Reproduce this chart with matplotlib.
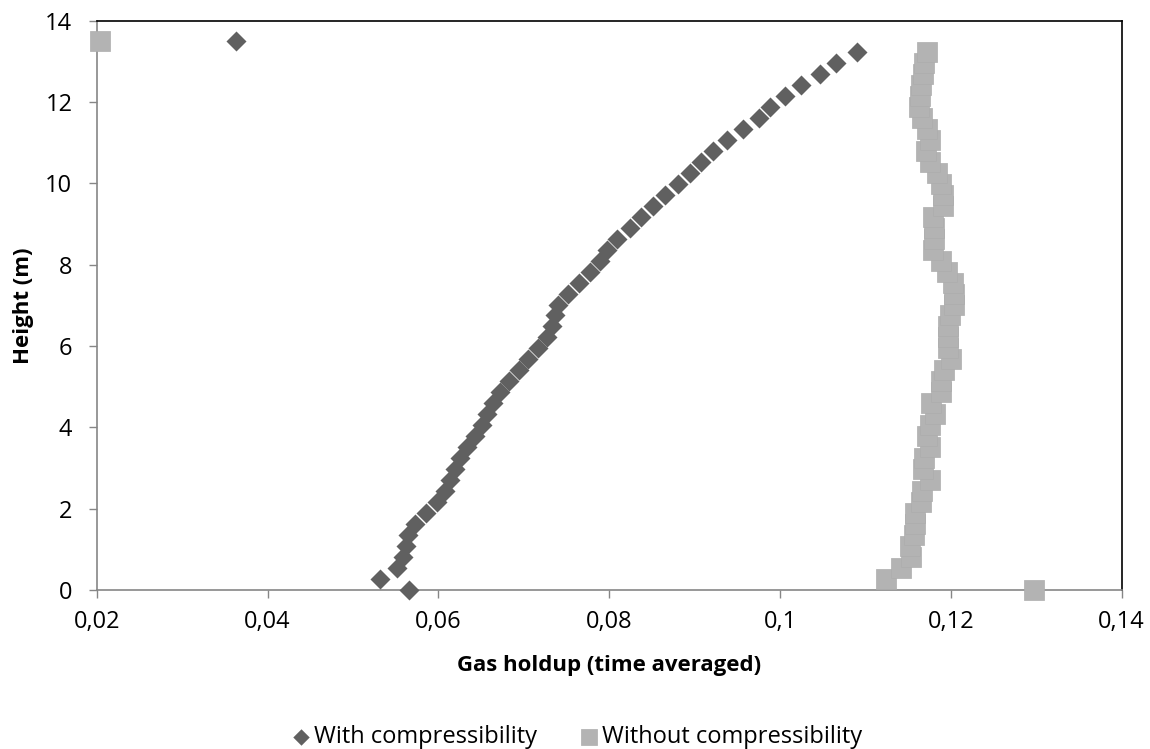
import matplotlib
matplotlib.use("Agg")
import matplotlib.pyplot as plt
from matplotlib.ticker import FuncFormatter, MultipleLocator

plt.rcParams['font.family'] = ['Open Sans', 'DejaVu Sans']

# heights (m), 0 .. 13.5 in 0.27 m cells
height = [0.0, 0.27, 0.54, 0.81, 1.08, 1.35, 1.62, 1.89, 2.16, 2.43,
          2.70, 2.97, 3.24, 3.51, 3.78, 4.05, 4.32, 4.59, 4.86, 5.13,
          5.40, 5.67, 5.94, 6.21, 6.48, 6.75, 7.02, 7.29, 7.56, 7.83,
          8.10, 8.37, 8.64, 8.91, 9.18, 9.45, 9.72, 9.99, 10.26, 10.53,
          10.80, 11.07, 11.34, 11.61, 11.88, 12.15, 12.42, 12.69, 12.96, 13.23,
          13.5]

with_comp = [0.0566, 0.0532, 0.0551, 0.0558, 0.0562, 0.0565, 0.0573, 0.0586, 0.0598, 0.0608,
             0.0614, 0.0619, 0.0625, 0.0633, 0.0643, 0.0651, 0.0657, 0.0664, 0.0672, 0.0683,
             0.0694, 0.0705, 0.0717, 0.0727, 0.0733, 0.0737, 0.0740, 0.0752, 0.0765, 0.0778,
             0.0789, 0.0797, 0.0809, 0.0824, 0.0837, 0.0851, 0.0865, 0.0880, 0.0895, 0.0907,
             0.0922, 0.0938, 0.0957, 0.0975, 0.0988, 0.1006, 0.1025, 0.1047, 0.1065, 0.1090,
             0.0363]

without_comp = [0.1297, 0.1124, 0.1142, 0.1153, 0.1152, 0.1157, 0.1158, 0.1158, 0.1165, 0.1166,
                0.1176, 0.1167, 0.1168, 0.1176, 0.1172, 0.1176, 0.1181, 0.1177, 0.1188, 0.1189,
                0.1192, 0.1200, 0.1197, 0.1197, 0.1197, 0.1199, 0.1204, 0.1204, 0.1203, 0.1196,
                0.1188, 0.1179, 0.1180, 0.1180, 0.1179, 0.1191, 0.1191, 0.1188, 0.1184, 0.1176,
                0.1171, 0.1176, 0.1172, 0.1166, 0.1163, 0.1164, 0.1165, 0.1167, 0.1168, 0.1172,
                0.0204]

fig = plt.figure(figsize=(11.5, 7.49), dpi=100)
ax = fig.add_axes([0.0841, 0.2123, 0.8913, 0.7601])

ax.scatter(with_comp, height, marker='D', s=104, color='#606060', linewidths=0,
           label='With compressibility', zorder=3, clip_on=False)
ax.scatter(without_comp, height, marker='s', s=207, color='#b3b3b3', edgecolors='#adadad',
           linewidths=0.5, label='Without compressibility', zorder=3, clip_on=False)

ax.set_xlim(0.02, 0.14)
ax.set_ylim(0, 14)
ax.xaxis.set_major_locator(MultipleLocator(0.02))
ax.yaxis.set_major_locator(MultipleLocator(2))
ax.xaxis.set_major_formatter(FuncFormatter(lambda v, p: ('%g' % round(v, 4)).replace('.', ',')))

for side in ['left', 'bottom']:
    ax.spines[side].set_color('#868686')
    ax.spines[side].set_linewidth(1.2)
for side in ['top', 'right']:
    ax.spines[side].set_color('black')
    ax.spines[side].set_linewidth(1.2)

ax.tick_params(axis='both', direction='out', length=5.5, width=1, color='#868686',
               labelsize=17, labelcolor='black')
ax.tick_params(axis='x', pad=9)
ax.tick_params(axis='y', pad=12)

ax.set_xlabel('Gas holdup (time averaged)', fontsize=16, fontweight='bold')
ax.set_ylabel('Height (m)', fontsize=16, fontweight='bold')
ax.xaxis.set_label_coords(0.5, -0.1335)
ax.xaxis.label.set_va('center')
ax.yaxis.set_label_coords(-0.0716, 0.5)
ax.yaxis.label.set_va('center')

ax.legend(loc='center', bbox_to_anchor=(0.503, 0.016), bbox_transform=fig.transFigure,
          ncol=2, frameon=False, fontsize=17, handlelength=0.6, handletextpad=0.25,
          columnspacing=1.9, markerscale=0.82, borderpad=0)

fig.savefig('out.png', dpi=100)
